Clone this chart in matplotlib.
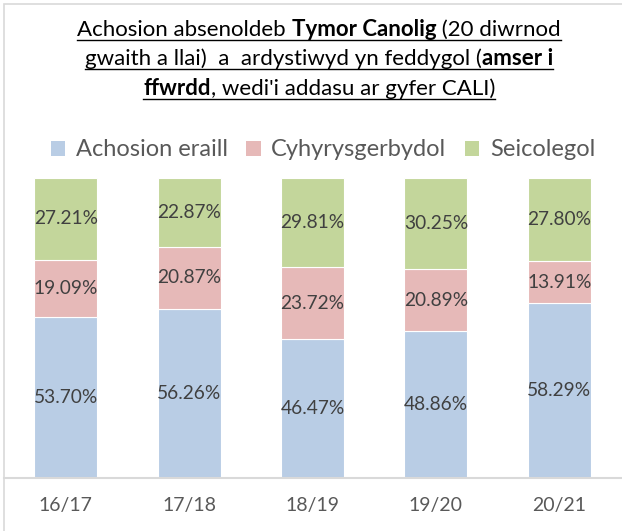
import matplotlib
matplotlib.use("Agg")
import matplotlib.pyplot as plt
from matplotlib.patches import Patch, Rectangle
from matplotlib.lines import Line2D
import numpy as np

categories = ["16/17", "17/18", "18/19", "19/20", "20/21"]
series_names = ["Achosion eraill", "Cyhyrysgerbydol", "Seicolegol"]
achosion_eraill = [53.70, 56.26, 46.47, 48.86, 58.29]
cyhyrysgerbydol = [19.09, 20.87, 23.72, 20.89, 13.91]
seicolegol = [27.21, 22.87, 29.81, 30.25, 27.80]
colors = ["#b9cde5", "#e6b9b8", "#c3d69b"]

title_lines = [
    [("Achosion absenoldeb ", False), ("Tymor Canolig", True), (" (20 diwrnod", False)],
    [("gwaith a llai)  a  ardystiwyd yn feddygol (", False), ("amser i", True)],
    [("ffwrdd", True), (", wedi'i addasu ar gyfer CALI)", False)],
]

FONT = "Lato"
W, H = 622, 531
fig = plt.figure(figsize=(W / 100, H / 100), dpi=100)
fig.patch.set_facecolor("white")

# border (left/top visible, right/bottom cropped)
fig.patches.append(Rectangle((4 / W, -0.05), 1.2, (531 - 4) / H + 0.05, transform=fig.transFigure,
                             fill=False, edgecolor="#d9d9d9", linewidth=1.2))

ax = fig.add_axes([4 / W, (H - 478) / H, (621 - 4) / W, 300 / H])
x = np.arange(len(categories))
data = [achosion_eraill, cyhyrysgerbydol, seicolegol]
bottom = np.zeros(len(categories))
for vals, col, name in zip(data, colors, series_names):
    vals = np.array(vals)
    ax.bar(x, vals, 0.51, bottom=bottom, color=col, edgecolor="white", linewidth=0.8, label=name)
    for xi, b, v in zip(x, bottom, vals):
        ax.text(xi, b + v / 2, f"{v:.2f}%", ha="center", va="center", fontsize=13.8,
                color="#404040", family=FONT)
    bottom += vals

ax.set_xlim(-0.5, len(categories) - 0.5)
ax.set_ylim(0, 100)
for s in ["top", "right", "left"]:
    ax.spines[s].set_visible(False)
ax.spines["bottom"].set_color("#d9d9d9")
ax.spines["bottom"].set_linewidth(1.5)
ax.set_yticks([])
ax.set_xticks(x)
ax.set_xticklabels(categories, fontsize=14, color="#595959", family=FONT)
ax.tick_params(axis="x", length=0, pad=14)

# legend
handles = [Patch(facecolor=c, edgecolor="none") for c in colors]
fig.legend(handles, series_names, loc="center", bbox_to_anchor=(323 / W, (H - 150) / H), ncol=3,
           frameon=False, prop={"family": FONT, "size": 17}, labelcolor="#595959",
           handlelength=0.6, handleheight=0.6, handletextpad=0.45, columnspacing=0.8)

# title with mixed bold and underline
renderer = fig.canvas.get_renderer()
baselines = [36, 65, 95]
tsize = 16
center = 319
for parts, yb in zip(title_lines, baselines):
    texts = []
    widths = []
    for s, bold in parts:
        t = fig.text(0, 1 - yb / H, s, fontsize=tsize, family=FONT,
                     fontweight="bold" if bold else "normal", va="baseline", ha="left", color="black")
        bb = t.get_window_extent(renderer)
        texts.append(t)
        widths.append(bb.width)
    total = sum(widths)
    x0 = center - total / 2
    cur = x0
    for t, w in zip(texts, widths):
        t.set_x(cur / W)
        cur += w
    yl = 1 - (yb + 3.5) / H
    fig.add_artist(Line2D([x0 / W, (x0 + total) / W], [yl, yl], transform=fig.transFigure,
                          color="black", linewidth=1.0))

fig.savefig("out.png", dpi=100)
